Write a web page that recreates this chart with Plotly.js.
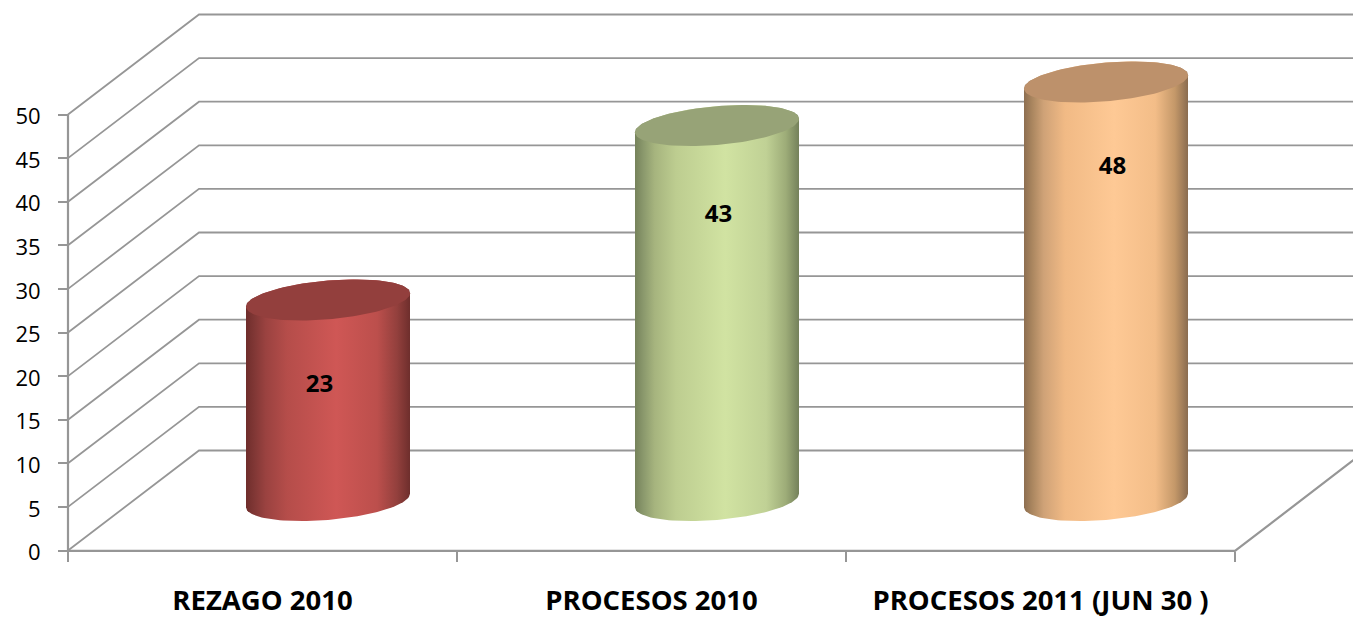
<!DOCTYPE html>
<html>
<head>
<meta charset="utf-8">
<script src="https://cdn.plot.ly/plotly-3.0.1.min.js"></script>
<style>html,body{margin:0;padding:0;background:#fff;overflow:hidden}#chart{width:1353px;height:617px}</style>
</head>
<body>
<div id="chart"></div>
<script>
const categories = ["REZAGO 2010", "PROCESOS 2010", "PROCESOS 2011 (JUN 30 )"];
const values = [23, 43, 48];
const yTicks = [0, 5, 10, 15, 20, 25, 30, 35, 40, 45, 50];

const bodyScales = [
  [[0,"#6f2d2b"],[0.05,"#803735"],[0.12,"#9a4240"],[0.25,"#b54d4a"],[0.55,"#cf5755"],[0.8,"#bc4f4c"],[0.92,"#93403d"],[1,"#6e2e2c"]],
  [[0,"#75825a"],[0.05,"#8a986c"],[0.12,"#a6b47e"],[0.25,"#bdcd90"],[0.55,"#d1e3a2"],[0.8,"#c0d195"],[0.92,"#9dac78"],[1,"#74815b"]],
  [[0,"#8d6e50"],[0.05,"#aa865f"],[0.12,"#cfa277"],[0.25,"#f1ba85"],[0.55,"#fec995"],[0.8,"#f3bd88"],[0.92,"#c49869"],[1,"#8a6c50"]]
];
const topColors = ["#933f3d", "#97a377", "#bd916b"];

// page geometry of the axes (pixels per unit)
const PXX = 389, PXY = 8.72, X0 = 68, Y0 = 550.5, W = 1353, H = 617;
const depthX = 131 / PXX, depthY = 100 / PXY;   // wall depth, in data units
const cylX = depthX / 2, cylY = depthY / 2;     // cylinders stand mid-depth
const rx = 82 / PXX, ryA = 6.8 / PXY, ryB = 19.4 / PXY;
const labelDx = [57 / PXX, 67 / PXX, 72 / PXX], labelDy = [-4.15, -4.65, -4.15];
const xMin = -0.5 - X0 / PXX, xMax = -0.5 + (W - X0) / PXX;
const yMin = (Y0 - H) / PXY, yMax = Y0 / PXY;
const xL = -0.5, xR = categories.length - 0.5;
const GRID = "#969696";

function ellipse(i, level, t0, t1, n) {
  const xs = [], ys = [];
  for (let k = 0; k <= n; k++) {
    const t = t0 + (t1 - t0) * k / n;
    xs.push(i + cylX + rx * Math.cos(t));
    ys.push(level + cylY + ryA * Math.cos(t) + ryB * Math.sin(t));
  }
  return [xs, ys];
}

const traces = [];
// walls: back-wall horizontals and left-wall diagonals
const gx = [], gy = [];
yTicks.forEach(v => {
  gx.push(xL, xL + depthX, xR + depthX, null);
  gy.push(v, v + depthY, v + depthY, null);
});
traces.push({type:"scatter", mode:"lines", x:gx, y:gy, line:{color:GRID, width:1.8}, hoverinfo:"skip"});
// floor front + right edge, and vertical axis
traces.push({type:"scatter", mode:"lines",
  x:[xL, xR, xR + depthX, null, xL, xL],
  y:[-0.05, -0.05, depthY, null, 0, yTicks[yTicks.length - 1]],
  line:{color:GRID, width:2.2}, hoverinfo:"skip"});

values.forEach((v, i) => {
  const [bx, by] = ellipse(i, 0, 0, -Math.PI, 60);
  const [tx, ty] = ellipse(i, v, Math.PI, 0, 60);
  traces.push({type:"scatter", mode:"lines", x:bx.concat(tx), y:by.concat(ty), fill:"toself",
    line:{width:0, color:"rgba(0,0,0,0)"}, fillgradient:{type:"horizontal", colorscale:bodyScales[i]}, hoverinfo:"skip"});
  const [ex, ey] = ellipse(i, v, 0, 2 * Math.PI, 120);
  traces.push({type:"scatter", mode:"lines", x:ex, y:ey, fill:"toself", fillcolor:topColors[i],
    line:{width:0, color:"rgba(0,0,0,0)"}, hoverinfo:"skip"});
});

traces.push({type:"scatter", mode:"text",
  x:values.map((v, i) => i + labelDx[i]), y:values.map((v, i) => v + labelDy[i]),
  text:values.map(String), textposition:"middle center",
  textfont:{family:"Open Sans", size:24, color:"#000", weight:700}, hoverinfo:"skip"});

const layout = {
  width:W, height:H, margin:{l:0, r:0, t:0, b:0}, showlegend:false,
  paper_bgcolor:"#fff", plot_bgcolor:"#fff",
  xaxis:{range:[xMin, xMax], anchor:"free", position:(H - Y0) / H, showgrid:false, zeroline:false, showline:false,
    tickmode:"array", tickvals:categories.map((c, i) => i), ticktext:categories, ticks:"",
    ticklabelstandoff:31, tickfont:{family:"Open Sans", size:27.5, color:"#000", weight:700},
    minor:{tick0:-0.5, dtick:1, ticks:"outside", ticklen:10, tickwidth:2, tickcolor:GRID, showgrid:false}},
  yaxis:{range:[yMin, yMax], anchor:"free", position:X0 / W, showgrid:false, zeroline:false, showline:false,
    tickmode:"array", tickvals:yTicks, ticks:"outside", ticklen:10, tickwidth:2, tickcolor:GRID,
    ticklabelstandoff:13, ticklabelshift:2, tickfont:{family:"Open Sans", size:22, color:"#000"}}
};
Plotly.newPlot("chart", traces, layout, {displayModeBar:false, staticPlot:true});
</script>
</body>
</html>
